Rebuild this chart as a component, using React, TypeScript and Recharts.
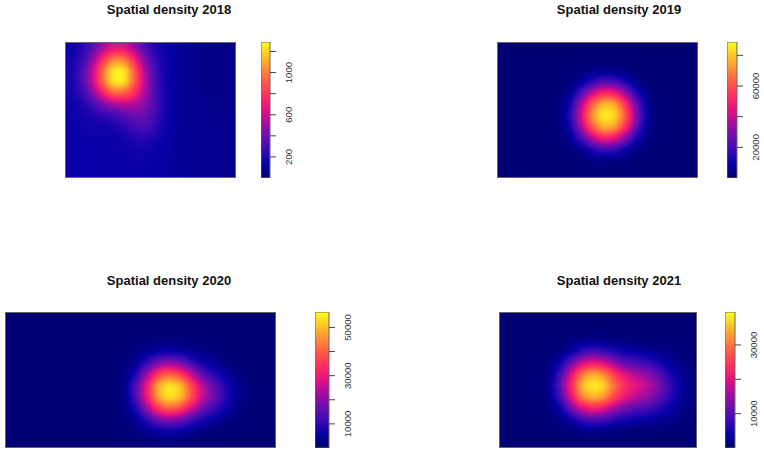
import React from 'react';
import { ScatterChart, Scatter, XAxis, YAxis, BarChart, Bar } from 'recharts';

// kernel density surfaces, % of each year's colour-scale maximum (rows top to bottom)
const density2018 = [
  [11, 15, 24, 39, 50, 50, 38, 23, 14, 10, 8, 7, 6, 5, 5, 5],
  [12, 18, 34, 59, 79, 78, 56, 32, 18, 11, 8, 7, 6, 5, 5, 5],
  [13, 21, 42, 74, 99, 98, 71, 40, 20, 11, 8, 7, 6, 5, 5, 5],
  [13, 21, 43, 75, 99, 99, 72, 43, 22, 11, 8, 7, 6, 5, 5, 5],
  [12, 18, 33, 55, 74, 73, 60, 40, 22, 12, 8, 7, 6, 5, 5, 5],
  [11, 14, 20, 31, 40, 43, 42, 34, 23, 12, 8, 7, 6, 6, 5, 5],
  [11, 12, 14, 17, 20, 25, 30, 30, 21, 11, 8, 7, 6, 6, 6, 6],
  [11, 11, 12, 12, 13, 16, 22, 24, 18, 10, 8, 7, 7, 6, 6, 6],
  [11, 11, 11, 11, 11, 12, 15, 17, 13, 10, 8, 7, 7, 6, 6, 6],
  [11, 11, 11, 11, 11, 11, 12, 12, 11, 10, 8, 7, 7, 6, 6, 6],
  [11, 11, 11, 11, 11, 11, 11, 11, 10, 9, 8, 7, 7, 6, 6, 6],
  [11, 11, 11, 11, 11, 11, 11, 10, 10, 9, 8, 7, 7, 6, 6, 6],
];

const density2019 = [
  [2, 2, 2, 2, 2, 2, 2, 2, 2, 2, 2, 2, 2, 2, 2, 2, 2, 2],
  [2, 2, 2, 2, 2, 2, 2, 2, 2, 2, 2, 2, 2, 2, 2, 2, 2, 2],
  [2, 2, 2, 2, 2, 2, 2, 3, 3, 5, 4, 3, 2, 2, 2, 2, 2, 2],
  [2, 2, 2, 2, 2, 2, 3, 6, 16, 24, 22, 12, 4, 2, 2, 2, 2, 2],
  [2, 2, 2, 2, 2, 2, 5, 23, 46, 60, 57, 38, 14, 4, 2, 2, 2, 2],
  [2, 2, 2, 2, 2, 3, 11, 41, 73, 91, 88, 63, 29, 6, 2, 2, 2, 2],
  [2, 2, 2, 2, 2, 3, 14, 48, 84, 99, 96, 72, 35, 7, 2, 2, 2, 2],
  [2, 2, 2, 2, 2, 3, 10, 40, 71, 89, 86, 61, 28, 5, 2, 2, 2, 2],
  [2, 2, 2, 2, 2, 2, 5, 20, 43, 56, 53, 35, 12, 3, 2, 2, 2, 2],
  [2, 2, 2, 2, 2, 2, 2, 5, 13, 20, 19, 10, 4, 2, 2, 2, 2, 2],
  [2, 2, 2, 2, 2, 2, 2, 2, 3, 4, 3, 3, 2, 2, 2, 2, 2, 2],
  [2, 2, 2, 2, 2, 2, 2, 2, 2, 2, 2, 2, 2, 2, 2, 2, 2, 2],
];

const density2020 = [
  [2, 2, 2, 2, 2, 2, 2, 2, 2, 2, 2, 2, 2, 2, 2, 2, 2, 2, 2, 2, 2, 2, 2, 2],
  [2, 2, 2, 2, 2, 2, 2, 2, 2, 2, 2, 2, 2, 2, 2, 2, 2, 2, 2, 2, 2, 2, 2, 2],
  [2, 2, 2, 2, 2, 2, 2, 2, 2, 2, 2, 2, 3, 3, 4, 3, 3, 2, 2, 2, 2, 2, 2, 2],
  [2, 2, 2, 2, 2, 2, 2, 2, 2, 2, 2, 4, 6, 9, 10, 9, 6, 4, 3, 2, 2, 2, 2, 2],
  [2, 2, 2, 2, 2, 2, 2, 2, 2, 2, 3, 5, 19, 32, 38, 32, 21, 11, 7, 3, 2, 2, 2, 2],
  [2, 2, 2, 2, 2, 2, 2, 2, 2, 2, 3, 13, 38, 63, 75, 66, 46, 27, 16, 9, 4, 2, 2, 2],
  [2, 2, 2, 2, 2, 2, 2, 2, 2, 2, 4, 22, 53, 87, 98, 92, 68, 44, 28, 15, 7, 3, 2, 2],
  [2, 2, 2, 2, 2, 2, 2, 2, 2, 2, 4, 22, 53, 86, 98, 92, 70, 46, 31, 17, 7, 3, 2, 2],
  [2, 2, 2, 2, 2, 2, 2, 2, 2, 2, 3, 12, 37, 62, 73, 67, 48, 31, 20, 11, 5, 2, 2, 2],
  [2, 2, 2, 2, 2, 2, 2, 2, 2, 2, 3, 5, 16, 30, 36, 31, 21, 13, 9, 5, 3, 2, 2, 2],
  [2, 2, 2, 2, 2, 2, 2, 2, 2, 2, 2, 4, 6, 9, 10, 9, 6, 4, 2, 2, 2, 2, 2, 2],
  [2, 2, 2, 2, 2, 2, 2, 2, 2, 2, 2, 2, 2, 3, 3, 3, 2, 2, 2, 2, 2, 2, 2, 2],
];

const density2021 = [
  [2, 2, 2, 2, 2, 2, 2, 2, 2, 2, 2, 2, 2, 2, 2, 2, 2, 2],
  [2, 2, 2, 2, 2, 2, 2, 2, 2, 2, 2, 2, 2, 2, 2, 2, 2, 2],
  [2, 2, 2, 2, 2, 2, 3, 4, 5, 4, 3, 3, 2, 2, 2, 2, 2, 2],
  [2, 2, 2, 2, 2, 3, 8, 17, 24, 20, 15, 11, 9, 7, 5, 4, 3, 2],
  [2, 2, 2, 2, 3, 9, 29, 47, 55, 49, 37, 27, 23, 19, 14, 8, 4, 3],
  [2, 2, 2, 2, 4, 20, 49, 77, 89, 82, 64, 50, 42, 36, 27, 15, 7, 3],
  [2, 2, 2, 3, 5, 26, 57, 90, 99, 95, 74, 60, 52, 45, 34, 20, 9, 4],
  [2, 2, 2, 2, 4, 20, 50, 79, 90, 84, 66, 52, 44, 38, 29, 17, 8, 4],
  [2, 2, 2, 2, 3, 9, 30, 49, 57, 52, 39, 30, 25, 22, 17, 10, 5, 3],
  [2, 2, 2, 2, 2, 4, 9, 19, 25, 22, 16, 12, 10, 9, 7, 5, 3, 2],
  [2, 2, 2, 2, 2, 2, 3, 4, 5, 4, 3, 3, 2, 2, 2, 2, 2, 2],
  [2, 2, 2, 2, 2, 2, 2, 2, 2, 2, 2, 2, 2, 2, 2, 2, 2, 2],
];

const years = ['2018', '2019', '2020', '2021'];
const scaleMax = [1290, 88700, 56400, 39600];
const ticks2018 = [200, 400, 600, 800, 1000, 1200];
const labels2018 = [200, 600, 1000];
const ticks2019 = [20000, 40000, 60000, 80000];
const labels2019 = [20000, 60000];
const ticks2020 = [10000, 20000, 30000, 40000, 50000];
const labels2020 = [10000, 30000, 50000];
const ticks2021 = [10000, 20000, 30000];
const labels2021 = [10000, 30000];

const grids = [density2018, density2019, density2020, density2021];
const tickSets = [ticks2018, ticks2019, ticks2020, ticks2021];
const labelSets = [labels2018, labels2019, labels2020, labels2021];

// colour ramp, low -> high
const RAMP = ['#00006a', '#0600a6', '#3a0ab6', '#6a0eae', '#a40ca0', '#e01282', '#ff2c60', '#ff5848', '#ff8c38', '#ffc428', '#ffff20'];

const channel = (k: number) =>
  RAMP.map((c) => (parseInt(c.slice(1 + 2 * k, 3 + 2 * k), 16) / 255).toFixed(3)).join(' ');

// panel positions: plot box [left, top, width, height], colour bar [left, width], title centre
const panels = [
  { plot: [65, 42, 171, 136], bar: [261, 9], title: [169, 10] },
  { plot: [497, 42, 201, 136], bar: [727, 10], title: [619, 10] },
  { plot: [5, 312, 271, 136], bar: [315, 14], title: [169, 281] },
  { plot: [499, 312, 198, 136], bar: [725, 10], title: [619, 281] },
];

const FONT = '"Liberation Sans", Arial, Helvetica, sans-serif';

function DensityImage({ grid, w, h }: any) {
  const rows = grid.length;
  const cols = grid[0].length;
  const cells = grid.flatMap((row: number[], j: number) =>
    row.map((v, i) => ({ x: i + 0.5, y: j + 0.5, v }))
  );
  const cw = w / cols;
  const ch = h / rows;
  return (
    <ScatterChart width={w} height={h} margin={{ top: 0, right: 0, bottom: 0, left: 0 }}>
      <XAxis type="number" dataKey="x" domain={[0, cols]} allowDataOverflow hide />
      <YAxis type="number" dataKey="y" domain={[0, rows]} allowDataOverflow reversed hide />
      <Scatter
        data={cells}
        isAnimationActive={false}
        shape={(p: any) => {
          const g = Math.round(Math.min(100, p.payload.v) * 2.55);
          return (
            <rect
              x={p.cx - cw / 2}
              y={p.cy - ch / 2}
              width={cw + 0.6}
              height={ch + 0.6}
              fill={`rgb(${g},${g},${g})`}
            />
          );
        }}
      />
    </ScatterChart>
  );
}

function ScaleTick(props: any) {
  const { x, y, payload, labels } = props;
  if (!labels.includes(payload.value)) return null;
  const cx = x + 11;
  return (
    <text
      x={cx}
      y={y}
      transform={`rotate(-90 ${cx} ${y})`}
      textAnchor="middle"
      dominantBaseline="central"
      fontSize={9.6}
      fill="#333"
      fontFamily={FONT}
    >
      {payload.value}
    </text>
  );
}

function ColourBar({ max, ticks, labels, w, h }: any) {
  return (
    <BarChart
      width={w + 40}
      height={h}
      data={[{ name: 'scale', value: max }]}
      margin={{ top: 0, right: 0, bottom: 0, left: 0 }}
      barCategoryGap={0}
    >
      <XAxis dataKey="name" hide />
      <YAxis
        orientation="right"
        type="number"
        domain={[0, max]}
        allowDataOverflow
        ticks={ticks}
        interval={0}
        width={40}
        axisLine={false}
        tickSize={6}
        tickLine={{ stroke: '#444' }}
        tick={<ScaleTick labels={labels} />}
      />
      <Bar dataKey="value" fill="url(#colourRamp)" stroke="#666" strokeWidth={1} isAnimationActive={false} />
    </BarChart>
  );
}

export default function App() {
  return (
    <div style={{ position: 'absolute', left: 0, top: 0, width: 764, height: 452, background: '#fff', fontFamily: FONT }}>
      <svg width={0} height={0} style={{ position: 'absolute' }}>
        <defs>
          <filter id="densityColours" x="0" y="0" width="1" height="1" colorInterpolationFilters="sRGB">
            <feGaussianBlur in="SourceGraphic" stdDeviation={4} result="soft" />
            <feComponentTransfer in="soft">
              <feFuncR type="table" tableValues={channel(0)} />
              <feFuncG type="table" tableValues={channel(1)} />
              <feFuncB type="table" tableValues={channel(2)} />
              <feFuncA type="linear" slope={0} intercept={1} />
            </feComponentTransfer>
          </filter>
          <linearGradient id="colourRamp" x1="0" y1="1" x2="0" y2="0">
            {RAMP.map((c, i) => (
              <stop key={i} offset={i / (RAMP.length - 1)} stopColor={c} />
            ))}
          </linearGradient>
        </defs>
      </svg>
      {panels.map((p, k) => {
        const [left, top, w, h] = p.plot;
        return (
          <React.Fragment key={years[k]}>
            <div
              style={{
                position: 'absolute',
                left: p.title[0] - 120,
                top: p.title[1] - 8,
                width: 240,
                textAlign: 'center',
                fontWeight: 'bold',
                fontSize: 13,
                lineHeight: '16px',
                color: '#111',
              }}
            >
              Spatial density {years[k]}
            </div>
            <div style={{ position: 'absolute', left, top, width: w, height: h, overflow: 'hidden', filter: 'url(#densityColours)' }}>
              <DensityImage grid={grids[k]} w={w} h={h} />
            </div>
            <div
              style={{
                position: 'absolute',
                left,
                top,
                width: w,
                height: h,
                boxSizing: 'border-box',
                border: '1px solid #666',
                pointerEvents: 'none',
              }}
            />
            <div style={{ position: 'absolute', left: p.bar[0], top }}>
              <ColourBar max={scaleMax[k]} ticks={tickSets[k]} labels={labelSets[k]} w={p.bar[1]} h={h} />
            </div>
          </React.Fragment>
        );
      })}
    </div>
  );
}
